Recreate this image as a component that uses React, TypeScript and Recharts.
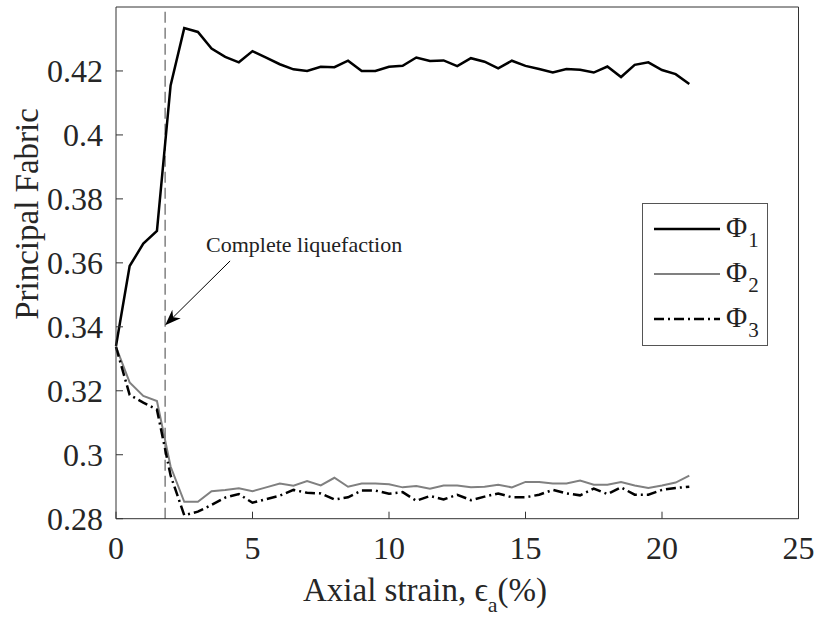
import React from "react";
import {
  LineChart,
  Line,
  XAxis,
  YAxis,
  ReferenceLine,
  ReferenceDot,
} from "recharts";

// axial strain (%)
const strain = [
  0, 0.5, 1, 1.5, 2, 2.5, 3, 3.5, 4, 4.5, 5, 5.5, 6, 6.5, 7, 7.5, 8, 8.5, 9, 9.5,
  10, 10.5, 11, 11.5, 12, 12.5, 13, 13.5, 14, 14.5, 15, 15.5, 16, 16.5, 17, 17.5,
  18, 18.5, 19, 19.5, 20, 20.5, 21,
];

const phi1 = [
  0.334, 0.359, 0.366, 0.37, 0.4155, 0.4334, 0.4322, 0.427, 0.4244, 0.4227,
  0.4262, 0.4242, 0.4221, 0.4205, 0.42, 0.4213, 0.4212, 0.4232, 0.42, 0.42,
  0.4213, 0.4216, 0.4242, 0.4231, 0.4233, 0.4215, 0.424, 0.4229, 0.4208, 0.4232,
  0.4216, 0.4206, 0.4195, 0.4206, 0.4204, 0.4195, 0.4214, 0.4181, 0.4219, 0.4227,
  0.4203, 0.419, 0.4159,
];

const phi2 = [
  0.3337, 0.3226, 0.3184, 0.3168, 0.2963, 0.2853, 0.2853, 0.2886, 0.289, 0.2895,
  0.2886, 0.2898, 0.291, 0.2903, 0.2918, 0.2904, 0.2928, 0.29, 0.291, 0.291,
  0.2908, 0.2898, 0.2902, 0.2894, 0.2904, 0.2904, 0.2898, 0.29, 0.2906, 0.2898,
  0.2915, 0.2915, 0.291, 0.291, 0.2919, 0.2906, 0.2906, 0.2915, 0.2904, 0.2896,
  0.2904, 0.2913, 0.2935,
];

const phi3 = [
  0.3337, 0.3187, 0.3163, 0.3141, 0.2935, 0.2811, 0.2822, 0.2843, 0.2866, 0.2877,
  0.285, 0.2861, 0.2872, 0.289, 0.2881, 0.2879, 0.286, 0.2867, 0.2888, 0.2888,
  0.2878, 0.2883, 0.2856, 0.2871, 0.286, 0.2875, 0.2858, 0.2869, 0.2879, 0.2867,
  0.2867, 0.2875, 0.289, 0.2879, 0.2873, 0.2894, 0.2877, 0.2898, 0.2875, 0.2875,
  0.289, 0.2896, 0.29,
];

const xTicks = [0, 5, 10, 15, 20, 25];
const yTicks = [0.28, 0.3, 0.32, 0.34, 0.36, 0.38, 0.4, 0.42];

const liquefactionStrain = 1.8;
const arrowFrom = { x: 4.18, y: 0.3606 };
const arrowTo = { x: 1.8, y: 0.3405 };
const noteAt = { x: 3.3, y: 0.3633 };

const data = strain.map((s, i) => ({ s, phi1: phi1[i], phi2: phi2[i], phi3: phi3[i] }));

const FONT = "'Liberation Serif', 'Times New Roman', serif";
const AXIS = "#333";

const fmt = (v: number) => String(+v.toFixed(2));

const Arrow = (props: any) => {
  const { x1, y1, x2, y2 } = props;
  const ang = Math.atan2(y2 - y1, x2 - x1);
  const len = 16;
  const half = 6;
  const bx = x2 - len * Math.cos(ang);
  const by = y2 - len * Math.sin(ang);
  const nx = x2 - len * 0.7 * Math.cos(ang);
  const ny = y2 - len * 0.7 * Math.sin(ang);
  const px = -Math.sin(ang) * half;
  const py = Math.cos(ang) * half;
  return (
    <g>
      <line x1={x1} y1={y1} x2={nx} y2={ny} stroke="#000" strokeWidth={1} />
      <polygon
        points={`${x2},${y2} ${bx + px},${by + py} ${nx},${ny} ${bx - px},${by - py}`}
        fill="#000"
      />
    </g>
  );
};

const Note = (props: any) => (
  <text x={props.cx} y={props.cy} fontFamily={FONT} fontSize={22} fill="#222">
    Complete liquefaction
  </text>
);

const LegendBox = () => {
  const rows = [
    { sub: "1", stroke: "#000", width: 2.5, dash: undefined },
    { sub: "2", stroke: "#808080", width: 2, dash: undefined },
    { sub: "3", stroke: "#000", width: 2.5, dash: "10 4 2 4" },
  ];
  return (
    <svg
      width={126}
      height={143}
      style={{ position: "absolute", left: 642, top: 203 }}
    >
      <rect x={0.5} y={0.5} width={125} height={142} fill="#fff" stroke="#555" />
      {rows.map((r, i) => {
        const y = 26 + i * 45;
        return (
          <g key={r.sub}>
            <line x1={12} x2={78} y1={y} y2={y} stroke={r.stroke} strokeWidth={r.width} strokeDasharray={r.dash} />
            <text x={84} y={y + 8} fontFamily={FONT} fontSize={29} fill="#222">
              Φ
              <tspan dx={1} dy={10} fontSize={21}>
                {r.sub}
              </tspan>
            </text>
          </g>
        );
      })}
    </svg>
  );
};

export default function App() {
  return (
    <div style={{ position: "absolute", left: 0, top: 0, width: 821, height: 618, background: "#fff" }}>
      <LineChart
        width={821}
        height={618}
        data={data}
        margin={{ top: 6, right: 21.5, left: 56, bottom: 39.3 }}
      >
        <XAxis
          dataKey="s"
          type="number"
          domain={[0, 25]}
          ticks={xTicks}
          height={60}
          tickSize={-7}
          tickMargin={25}
          stroke={AXIS}
          tick={{ fontFamily: FONT, fontSize: 32, fill: "#262626" }}
          label={(p: any) => (
            <text x={425} y={601} textAnchor="middle" fontFamily={FONT} fontSize={33} fill="#262626">
              Axial strain, ϵ
              <tspan dy={11} fontSize={22}>a</tspan>
              <tspan dy={-11}>(%)</tspan>
            </text>
          )}
        />
        <XAxis
          xAxisId="top"
          dataKey="s"
          orientation="top"
          type="number"
          domain={[0, 25]}
          ticks={xTicks}
          height={1}
          tickSize={-7}
          tick={false}
          stroke={AXIS}
        />
        <YAxis
          type="number"
          domain={[0.28, 0.44]}
          ticks={yTicks}
          width={60}
          tickSize={-7}
          tickMargin={20}
          tickFormatter={fmt}
          stroke={AXIS}
          tick={{ fontFamily: FONT, fontSize: 32, fill: "#262626" }}
          label={(p: any) => (
            <text
              x={38}
              y={214}
              transform="rotate(-90 38 214)"
              textAnchor="middle"
              fontFamily={FONT}
              fontSize={33}
              fill="#262626"
            >
              Principal Fabric
            </text>
          )}
        />
        <YAxis
          yAxisId="right"
          orientation="right"
          type="number"
          domain={[0.28, 0.44]}
          ticks={yTicks}
          width={1}
          tickSize={-7}
          tick={false}
          stroke={AXIS}
        />
        <ReferenceLine
          x={liquefactionStrain}
          stroke="#808080"
          strokeWidth={1.5}
          strokeDasharray="11 5"
        />
        <Line
          xAxisId="top"
          yAxisId="right"
          dataKey="phi1"
          name="Φ1"
          stroke="#000"
          strokeWidth={2.5}
          dot={false}
          isAnimationActive={false}
        />
        <Line dataKey="phi2" name="Φ2" stroke="#808080" strokeWidth={2} dot={false} isAnimationActive={false} />
        <Line
          dataKey="phi3"
          name="Φ3"
          stroke="#000"
          strokeWidth={2.5}
          strokeDasharray="10 4 2 4"
          dot={false}
          isAnimationActive={false}
        />
        <ReferenceLine
          segment={[
            { x: arrowFrom.x, y: arrowFrom.y },
            { x: arrowTo.x, y: arrowTo.y },
          ]}
          shape={Arrow}
        />
        <ReferenceDot x={noteAt.x} y={noteAt.y} r={0} shape={Note} />
      </LineChart>
      <LegendBox />
    </div>
  );
}
